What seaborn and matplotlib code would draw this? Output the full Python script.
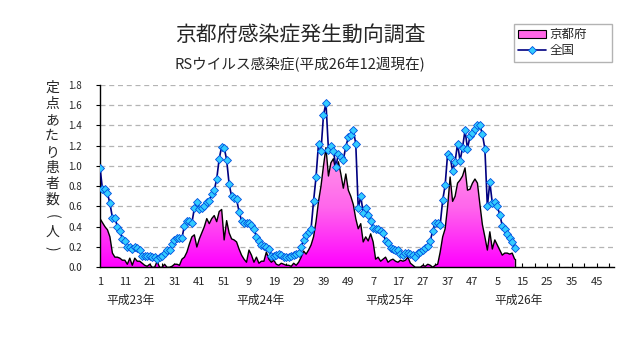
import numpy as np
import pandas as pd
import matplotlib
matplotlib.use("Agg")
import matplotlib.pyplot as plt
import matplotlib.transforms as mtransforms
import seaborn as sns
from matplotlib.patches import Patch
from matplotlib.lines import Line2D
from matplotlib.colors import LinearSegmentedColormap

# ---------------- data ----------------
title = "京都府感染症発生動向調査"
subtitle = "RSウイルス感染症(平成26年12週現在)"
ylabel = "定点あたり患者数（人）"
series_names = ["京都府", "全国"]
year_labels = ["平成23年", "平成24年", "平成25年", "平成26年"]
weeks_per_year = [52, 52, 52, 52]
tick_labels = ["1", "11", "21", "31", "41", "51", "9", "19", "29", "39", "49",
               "7", "17", "27", "37", "47", "5", "15", "25", "35", "45"]
y_ticks = [0.0, 0.2, 0.4, 0.6, 0.8, 1.0, 1.2, 1.4, 1.6, 1.8]

national = [
    0.98, 0.77, 0.77, 0.73, 0.63, 0.49, 0.49, 0.40, 0.36, 0.28,
    0.26, 0.20, 0.20, 0.18, 0.20, 0.19, 0.17, 0.11, 0.11, 0.11,
    0.11, 0.10, 0.10, 0.085, 0.10, 0.11, 0.145, 0.17, 0.17, 0.23,
    0.27, 0.29, 0.29, 0.29, 0.41, 0.46, 0.46, 0.44, 0.58, 0.64,
    0.57, 0.58, 0.60, 0.64, 0.65, 0.72, 0.76, 0.87, 1.07, 1.19,
    1.18, 1.06, 0.82, 0.70, 0.68, 0.67, 0.55, 0.46, 0.44, 0.44,
    0.44, 0.42, 0.38, 0.30, 0.26, 0.22, 0.21, 0.20, 0.18, 0.11,
    0.11, 0.12, 0.13, 0.12, 0.10, 0.10, 0.10, 0.11, 0.12, 0.13,
    0.14, 0.20, 0.27, 0.32, 0.35, 0.38, 0.65, 0.89, 1.22, 1.15,
    1.50, 1.62, 1.16, 1.20, 1.15, 0.99, 1.12, 1.09, 1.06, 1.19,
    1.28, 1.30, 1.35, 1.22, 0.58, 0.70, 0.54, 0.58, 0.52, 0.46,
    0.39, 0.38, 0.38, 0.36, 0.34, 0.26, 0.24, 0.19, 0.18, 0.17,
    0.17, 0.13, 0.12, 0.14, 0.14, 0.13, 0.12, 0.10, 0.14, 0.15,
    0.17, 0.19, 0.21, 0.26, 0.36, 0.44, 0.44, 0.42, 0.66, 0.81,
    1.12, 1.09, 0.95, 1.04, 1.22, 1.05, 1.18, 1.35, 1.17, 1.29,
    1.32, 1.36, 1.40, 1.40, 1.31, 1.17, 0.60, 0.84, 0.63, 0.64,
    0.60, 0.52, 0.41, 0.38, 0.33, 0.29, 0.25, 0.19,
]

kyoto = [
    0.48, 0.44, 0.40, 0.37, 0.30, 0.14, 0.10, 0.10, 0.09, 0.07,
    0.07, 0.03, 0.09, 0.02, 0.09, 0.06, 0.06, 0.04, 0.02, 0.01,
    0.03, 0.00, 0.00, 0.06, 0.00, 0.00, 0.03, 0.00, 0.00, 0.01,
    0.03, 0.03, 0.02, 0.08, 0.10, 0.15, 0.23, 0.30, 0.32, 0.20,
    0.28, 0.34, 0.40, 0.48, 0.43, 0.48, 0.51, 0.45, 0.55, 0.57,
    0.27, 0.46, 0.34, 0.28, 0.27, 0.25, 0.18, 0.12, 0.08, 0.05,
    0.17, 0.12, 0.05, 0.10, 0.04, 0.06, 0.06, 0.15, 0.08, 0.05,
    0.07, 0.03, 0.02, 0.04, 0.03, 0.02, 0.02, 0.01, 0.04, 0.02,
    0.05, 0.10, 0.16, 0.13, 0.17, 0.22, 0.30, 0.45, 0.65, 0.80,
    1.00, 1.18, 0.90, 1.03, 1.07, 0.95, 1.04, 0.92, 0.78, 0.92,
    0.76, 0.70, 0.62, 0.48, 0.38, 0.43, 0.25, 0.30, 0.26, 0.33,
    0.25, 0.08, 0.10, 0.06, 0.08, 0.10, 0.05, 0.07, 0.08, 0.06,
    0.05, 0.07, 0.06, 0.07, 0.10, 0.04, 0.02, 0.00, 0.00, 0.00,
    0.02, 0.01, 0.03, 0.02, 0.00, 0.02, 0.03, 0.15, 0.30, 0.38,
    0.60, 0.89, 0.65, 0.70, 0.83, 0.86, 0.90, 0.98, 0.76, 0.77,
    0.83, 0.87, 0.83, 0.62, 0.42, 0.30, 0.17, 0.35, 0.18, 0.27,
    0.22, 0.17, 0.12, 0.14, 0.14, 0.13, 0.14, 0.08,
]

# ---------------- styling ----------------
sns.set_theme(style="white")
plt.rcParams["font.family"] = ["Noto Sans CJK JP", "DejaVu Sans"]

W, H = 632, 348
fig = plt.figure(figsize=(W / 100, H / 100), dpi=100)
ax_left, ax_right, ax_top, ax_bottom = 100, 614, 84.7, 267.3
ax = fig.add_axes([ax_left / W, (H - ax_bottom) / H,
                   (ax_right - ax_left) / W, (ax_bottom - ax_top) / H])

n_weeks = len(national)
df = pd.DataFrame({"week": np.arange(1, n_weeks + 1),
                   series_names[0]: kyoto,
                   series_names[1]: national})
total_weeks = sum(weeks_per_year)

# gradient-filled area for Kyoto
poly = ax.fill_between(df["week"], 0, df[series_names[0]],
                       facecolor="none", edgecolor="none")
clip_path = poly.get_paths()[0]
grad = np.linspace(0, 1, 256).reshape(-1, 1)
cmap = LinearSegmentedColormap.from_list("pm", ["#FF00FF", "#FF66EC", "#FF9CE8"])
im = ax.imshow(grad, extent=[1, n_weeks, 0, max(kyoto)], origin="lower",
               aspect="auto", cmap=cmap, zorder=2, interpolation="bilinear")
im.set_clip_path(clip_path, transform=ax.transData)

# black outline of the area
sns.lineplot(data=df, x="week", y=series_names[0], ax=ax, color="black",
             lw=1.0, zorder=3, legend=False)
ax.plot([n_weeks, n_weeks], [0, kyoto[-1]], color="black", lw=1.0, zorder=3)

# national line with diamond markers
sns.lineplot(data=df, x="week", y=series_names[1], ax=ax, color="#000080",
             lw=1.2, marker="D", markersize=4.3, markerfacecolor="#33CCFF",
             markeredgecolor="#0050E0", markeredgewidth=0.6, zorder=4,
             legend=False)

ax.set_xlim(1, total_weeks)
ax.set_ylim(0, 1.8)
ax.set_xlabel("")
ax.set_ylabel("")

# grid
ax.set_yticks(y_ticks)
ax.set_yticklabels([f"{v:.1f}" for v in y_ticks], fontsize=7)
ax.yaxis.grid(True, color="#B4B4B4", linestyle=(0, (4, 3)), lw=0.9)
ax.xaxis.grid(False)
ax.set_axisbelow(True)

major_pos = np.arange(1, total_weeks, 10)
ax.set_xticks(major_pos)
ax.set_xticklabels(tick_labels, fontsize=8)
ax.set_xticks(np.arange(6, total_weeks, 10), minor=True)
ax.tick_params(axis="x", which="both", direction="in", length=3, width=0.8,
               color="black", pad=7, bottom=True)
ax.tick_params(axis="y", which="major", direction="out", length=3, width=0.8,
               color="black", pad=10, left=True)

for s in ["top", "right"]:
    ax.spines[s].set_visible(False)
for s in ["left", "bottom"]:
    ax.spines[s].set_color("black")
    ax.spines[s].set_linewidth(1.0)

# year labels
trans = mtransforms.blended_transform_factory(ax.transData, ax.transAxes)
starts = np.concatenate([[0], np.cumsum(weeks_per_year)[:-1]])
for s0, lab in zip(starts, year_labels):
    ax.text(s0 + 13.5, -0.18, lab, transform=trans, ha="center", va="center",
            fontsize=8.5)

# titles
fig.text(300 / W, 1 - 35 / H, title, ha="center", va="center", fontsize=15)
fig.text(300 / W, 1 - 65 / H, subtitle, ha="center", va="center", fontsize=10.5)

# vertical y label, one glyph per line (brackets turned for vertical writing)
y0, step = 88, 16.0
for i, ch in enumerate(ylabel):
    if ch in "（）":
        glyph = "(" if ch == "（" else ")"
        fig.text(52 / W, 1 - (y0 + i * step) / H, glyph, ha="center",
                 va="center", fontsize=10, rotation=-90,
                 rotation_mode="anchor")
    else:
        fig.text(52 / W, 1 - (y0 + i * step) / H, ch, ha="center",
                 va="center", fontsize=10)

# legend
handles = [Patch(facecolor="#FF66E6", edgecolor="black", lw=0.8),
           Line2D([], [], color="#000080", lw=1.2, marker="D", markersize=4.3,
                  markerfacecolor="#33CCFF", markeredgecolor="#0050E0",
                  markeredgewidth=0.6)]
leg = fig.legend(handles, series_names, loc="upper left",
                 bbox_to_anchor=(514 / W, 1 - 62 / H, 98 / W, 38 / H),
                 mode="expand", frameon=True, fancybox=False,
                 edgecolor="#A0A0A0", fontsize=9, handlelength=2.2,
                 borderpad=0.35, labelspacing=0.25, handletextpad=0.3,
                 borderaxespad=0)
leg.get_frame().set_linewidth(1.0)

fig.savefig("out.png", dpi=100)
